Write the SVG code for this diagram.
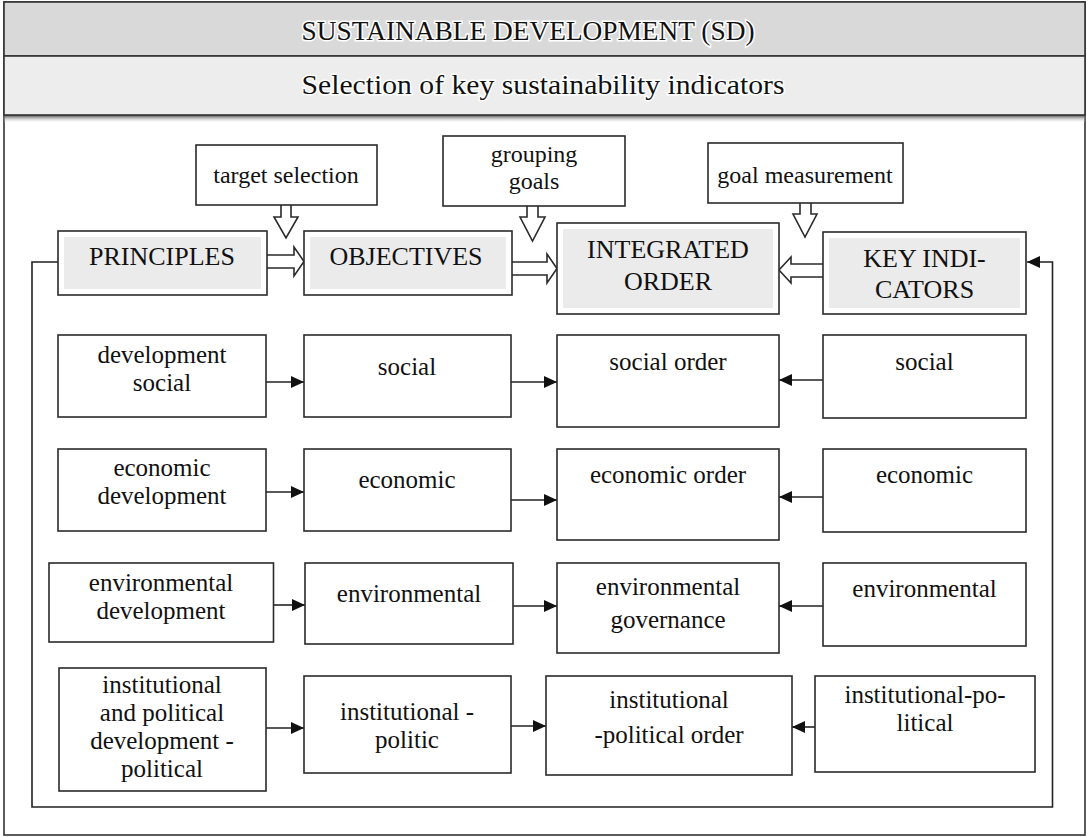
<svg xmlns="http://www.w3.org/2000/svg" width="1090" height="837" viewBox="0 0 1090 837">
<defs>
<style>
.box{fill:#fff;stroke:#2a2a2a;stroke-width:1.6}
.inner{fill:#ebebeb;stroke:none}
.t{font-family:"Liberation Serif","Times New Roman",serif;font-size:25px;fill:#111;text-anchor:middle}
.T{font-family:"Liberation Serif","Times New Roman",serif;font-size:26px;fill:#111;text-anchor:middle}
.c{font-family:"Liberation Serif","Times New Roman",serif;font-size:24px;fill:#111;text-anchor:middle}
.h{font-family:"Liberation Serif","Times New Roman",serif;fill:#111;text-anchor:middle;stroke:#fff;stroke-width:3;paint-order:stroke}
.ln{fill:none;stroke:#222;stroke-width:1.6}
.ha{fill:#fff;stroke:#2a2a2a;stroke-width:1.6;stroke-linejoin:miter}
</style>
<marker id="ah" markerUnits="userSpaceOnUse" markerWidth="13" markerHeight="12" refX="13" refY="6" orient="auto">
<path d="M0,0 L13,6 L0,12 z" fill="#111"/>
</marker>
<linearGradient id="sh" x1="0" y1="0" x2="0" y2="1">
<stop offset="0" stop-color="#444"/>
<stop offset="1" stop-color="#fff" stop-opacity="0"/>
</linearGradient>
</defs>

<g id="frame">
<rect x="4" y="2" width="1081" height="833" fill="#fff" stroke="#333" stroke-width="1.6"/>
<rect x="4" y="115" width="1081" height="8" fill="url(#sh)"/>
<rect x="4" y="2" width="1081" height="54" fill="#d9d9d9" stroke="#333" stroke-width="1.6"/>
<rect x="4" y="56" width="1081" height="59" fill="#ededed" stroke="#333" stroke-width="1.6"/>
</g>
<g id="title">
<text class="h" x="528" y="40" font-size="27" textLength="453" lengthAdjust="spacingAndGlyphs">SUSTAINABLE DEVELOPMENT (SD)</text>
</g>
<g id="subtitle">
<text class="h" x="543" y="94" font-size="28" textLength="483" lengthAdjust="spacingAndGlyphs">Selection of key sustainability indicators</text>
</g>

<g id="connectors">
<path class="ln" d="M58,262 H32 V807 H1052.5 V262 H1027" marker-end="url(#ah)"/>
<path class="ha" d="M267,255 H294 V247 L304,261.5 L294,276 V268 H267"/>
<path class="ha" d="M512,262 H547 V254 L557,268.5 L547,283 V275 H512"/>
<path class="ha" d="M823,264 H791 V257 L779,270 L791,283 V277 H823"/>
<path class="ha" d="M281,205 V217 H274 L286,238 L298,217 H291 V205"/>
<path class="ha" d="M527,206 V217 H520 L532.5,241 L545,217 H538 V206"/>
<path class="ha" d="M800,203 V214 H793 L805,237 L817,214 H811 V203"/>
<line class="ln" x1="266" y1="382" x2="304" y2="382" marker-end="url(#ah)"/>
<line class="ln" x1="511" y1="382" x2="557" y2="382" marker-end="url(#ah)"/>
<line class="ln" x1="823" y1="380" x2="779" y2="380" marker-end="url(#ah)"/>
<line class="ln" x1="266" y1="492" x2="304" y2="492" marker-end="url(#ah)"/>
<line class="ln" x1="511" y1="500" x2="557" y2="500" marker-end="url(#ah)"/>
<line class="ln" x1="823" y1="497" x2="779" y2="497" marker-end="url(#ah)"/>
<line class="ln" x1="273.5" y1="605" x2="305" y2="605" marker-end="url(#ah)"/>
<line class="ln" x1="513" y1="606" x2="557" y2="606" marker-end="url(#ah)"/>
<line class="ln" x1="823" y1="606" x2="779" y2="606" marker-end="url(#ah)"/>
<line class="ln" x1="266" y1="728" x2="304" y2="728" marker-end="url(#ah)"/>
<line class="ln" x1="511" y1="726" x2="546" y2="726" marker-end="url(#ah)"/>
<line class="ln" x1="815" y1="727" x2="792" y2="727" marker-end="url(#ah)"/>
</g>

<g id="target-selection">
<rect class="box" x="196" y="145" width="181" height="60"/>
<text class="c" x="286" y="183">target selection</text>
</g>
<g id="grouping-goals">
<rect class="box" x="443" y="136" width="182" height="70"/>
<text class="c" x="534" y="162">grouping</text>
<text class="c" x="534" y="189">goals</text>
</g>
<g id="goal-measurement">
<rect class="box" x="708" y="143" width="195" height="60"/>
<text class="c" x="805" y="183">goal measurement</text>
</g>

<g id="principles">
<rect class="box" x="58" y="231" width="209" height="64"/>
<rect class="inner" x="64" y="237" width="197" height="52"/>
<text class="T" x="162" y="265">PRINCIPLES</text>
</g>
<g id="objectives">
<rect class="box" x="304" y="231" width="208" height="64"/>
<rect class="inner" x="310" y="237" width="196" height="52"/>
<text class="T" x="406" y="265">OBJECTIVES</text>
</g>
<g id="integrated-order">
<rect class="box" x="557" y="223" width="222" height="91"/>
<rect class="inner" x="563" y="229" width="210" height="79"/>
<text class="T" x="668" y="258">INTEGRATED</text>
<text class="T" x="668" y="290">ORDER</text>
</g>
<g id="key-indicators">
<rect class="box" x="823" y="232" width="203" height="82"/>
<rect class="inner" x="829" y="238" width="191" height="70"/>
<text class="T" x="924.5" y="267">KEY INDI-</text>
<text class="T" x="924.5" y="298">CATORS</text>
</g>

<g id="development-social">
<rect class="box" x="58" y="335" width="208" height="82"/>
<text class="t" x="162" y="362.5">development</text>
<text class="t" x="162" y="390.5">social</text>
</g>
<g id="obj-social">
<rect class="box" x="304" y="335" width="207" height="82"/>
<text class="t" x="407" y="375">social</text>
</g>
<g id="social-order">
<rect class="box" x="557" y="335" width="222" height="92"/>
<text class="t" x="668" y="370">social order</text>
</g>
<g id="ki-social">
<rect class="box" x="823" y="335" width="203" height="83"/>
<text class="t" x="924.5" y="370">social</text>
</g>

<g id="economic-development">
<rect class="box" x="58" y="449" width="208" height="82"/>
<text class="t" x="162" y="475.5">economic</text>
<text class="t" x="162" y="503.5">development</text>
</g>
<g id="obj-economic">
<rect class="box" x="304" y="449" width="207" height="82"/>
<text class="t" x="407" y="488">economic</text>
</g>
<g id="economic-order">
<rect class="box" x="557" y="449" width="222" height="91"/>
<text class="t" x="668" y="483">economic order</text>
</g>
<g id="ki-economic">
<rect class="box" x="823" y="449" width="203" height="83"/>
<text class="t" x="924.5" y="483">economic</text>
</g>

<g id="environmental-development">
<rect class="box" x="49" y="563" width="224.5" height="79"/>
<text class="t" x="161" y="591">environmental</text>
<text class="t" x="161" y="619">development</text>
</g>
<g id="obj-environmental">
<rect class="box" x="305" y="563" width="208" height="81"/>
<text class="t" x="409" y="602">environmental</text>
</g>
<g id="environmental-governance">
<rect class="box" x="557" y="563" width="222" height="90"/>
<text class="t" x="668" y="595">environmental</text>
<text class="t" x="668" y="628">governance</text>
</g>
<g id="ki-environmental">
<rect class="box" x="823" y="563" width="203" height="83"/>
<text class="t" x="924.5" y="597">environmental</text>
</g>

<g id="institutional-development">
<rect class="box" x="59" y="668" width="207" height="123"/>
<text class="t" x="162" y="693">institutional</text>
<text class="t" x="162" y="721">and political</text>
<text class="t" x="162" y="749">development -</text>
<text class="t" x="162" y="777">political</text>
</g>
<g id="obj-institutional">
<rect class="box" x="304" y="676" width="207" height="97"/>
<text class="t" x="407" y="720">institutional -</text>
<text class="t" x="407" y="748">politic</text>
</g>
<g id="institutional-order">
<rect class="box" x="546" y="676" width="246" height="99"/>
<text class="t" x="669" y="708">institutional</text>
<text class="t" x="669" y="743">-political order</text>
</g>
<g id="ki-institutional">
<rect class="box" x="815" y="676" width="220" height="96"/>
<text class="t" x="925" y="703">institutional-po-</text>
<text class="t" x="925" y="731">litical</text>
</g>
</svg>
